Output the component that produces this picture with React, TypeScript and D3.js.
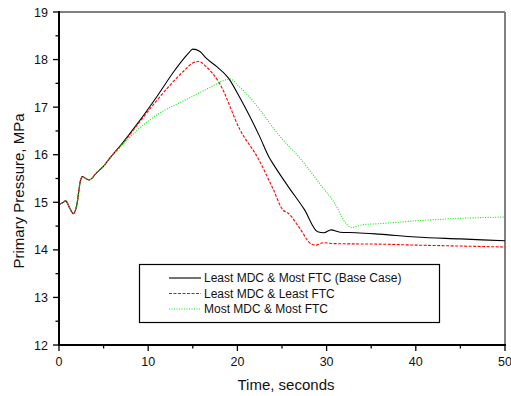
import React from 'react';
import * as d3 from 'd3';

// time (s) and primary pressure (MPa)
const baseT = [0, 0.4, 0.75, 1.2, 1.6, 2.0, 2.4, 2.6, 3.0, 3.4, 4.2, 5.0, 5.7, 7, 8.9, 11, 13, 14.5, 15.0, 15.8, 16.5, 17.7, 19.0, 20.3, 22.5, 23.6, 24.2, 25.7, 27.5, 29.0, 29.7, 30.5, 31.5, 33.3, 35.9, 40, 45, 50];
const baseP = [14.96, 14.99, 15.03, 14.88, 14.76, 14.95, 15.45, 15.54, 15.50, 15.47, 15.62, 15.76, 15.93, 16.22, 16.68, 17.23, 17.78, 18.13, 18.22, 18.17, 18.03, 17.85, 17.61, 17.19, 16.38, 15.93, 15.75, 15.33, 14.85, 14.38, 14.36, 14.42, 14.37, 14.36, 14.33, 14.27, 14.23, 14.19];

const leastT = [0, 0.4, 0.75, 1.2, 1.6, 2.0, 2.4, 2.6, 3.0, 3.4, 4.2, 5.0, 5.7, 7, 9, 11, 14.1, 15.0, 15.7, 16.5, 18.0, 20.3, 22.3, 24.0, 25.1, 25.7, 27.0, 28.3, 28.8, 29.6, 31, 36, 40, 45, 50];
const leastP = [14.96, 14.99, 15.03, 14.88, 14.76, 14.95, 15.45, 15.54, 15.50, 15.47, 15.62, 15.76, 15.93, 16.2, 16.68, 17.15, 17.78, 17.93, 17.96, 17.85, 17.5, 16.52, 15.93, 15.28, 14.84, 14.77, 14.45, 14.12, 14.10, 14.15, 14.13, 14.12, 14.10, 14.08, 14.06];

const mostT = [0, 0.4, 0.75, 1.2, 1.6, 2.0, 2.4, 2.6, 3.0, 3.4, 4.2, 5.0, 5.7, 6.5, 7.8, 9.6, 11.5, 13.5, 15.2, 17, 18.6, 19.2, 20, 21.4, 22.5, 24.6, 27, 29.2, 31, 32.2, 32.8, 33.5, 34.1, 35.9, 40, 46, 50];
const mostP = [14.96, 14.99, 15.03, 14.88, 14.76, 14.95, 15.45, 15.54, 15.50, 15.47, 15.62, 15.76, 15.93, 16.09, 16.34, 16.65, 16.9, 17.09, 17.25, 17.42, 17.57, 17.59, 17.47, 17.2, 16.95, 16.42, 15.93, 15.40, 14.95, 14.55, 14.47, 14.50, 14.53, 14.55, 14.61, 14.67, 14.69];

const seriesNames = ['Least MDC & Most FTC (Base Case)', 'Least MDC & Least FTC', 'Most MDC & Most FTC'];
const xTicks = [0, 10, 20, 30, 40, 50];
const yTicks = [12, 13, 14, 15, 16, 17, 18, 19];

const W = 511, H = 396;
const M = { left: 59, right: 505, top: 12, bottom: 345 };
const FONT = '"Liberation Sans", Arial, sans-serif';

const App = () => {
    const x = d3.scaleLinear().domain([0, 50]).range([M.left, M.right]);
    const y = d3.scaleLinear().domain([12, 19]).range([M.bottom, M.top]);
    const line = d3.line<[number, number]>().x(d => x(d[0])).y(d => y(d[1])).curve(d3.curveMonotoneX);

    const series = [
        { name: seriesNames[0], t: baseT, p: baseP, stroke: '#000000', dash: undefined as string | undefined },
        { name: seriesNames[1], t: leastT, p: leastP, stroke: '#ff0000', dash: '3,1.5' },
        { name: seriesNames[2], t: mostT, p: mostP, stroke: '#00ee00', dash: '1,1.5' },
    ];

    const xMinor = d3.range(5, 50, 10);
    const yMinor = d3.range(12.5, 19, 1);

    return (
        <svg width={W} height={H} style={{ position: 'absolute', left: 0, top: 0, background: '#fff' }} fontFamily={FONT}>
            <rect width={W} height={H} fill="#fff" />

            {/* frame: grey top / right */}
            <line x1={M.left} x2={M.right} y1={M.top} y2={M.top} stroke="#808080" strokeWidth={2} />
            <line x1={M.right} x2={M.right} y1={M.top} y2={M.bottom} stroke="#808080" strokeWidth={2} />

            {/* curves */}
            {series.map(s => (
                <path key={s.name} d={line(s.t.map((t, i) => [t, s.p[i]] as [number, number])) || ''}
                    fill="none" stroke={s.stroke} strokeWidth={1.1} strokeDasharray={s.dash} />
            ))}

            {/* left axis */}
            <line x1={M.left} x2={M.left} y1={M.top - 1} y2={M.bottom + 1} stroke="#000" strokeWidth={2} />
            {yTicks.map(v => (
                <g key={v}>
                    <line x1={M.left - 6} x2={M.left} y1={y(v)} y2={y(v)} stroke="#000" strokeWidth={1.3} />
                    <text x={M.left - 11} y={y(v)} dy="0.36em" textAnchor="end" fontSize={12.5} fill="#111">{v}</text>
                </g>
            ))}
            {yMinor.map(v => (
                <line key={v} x1={M.left - 3.5} x2={M.left} y1={y(v)} y2={y(v)} stroke="#000" strokeWidth={1.3} />
            ))}

            {/* bottom axis */}
            <line x1={M.left - 1} x2={M.right + 1} y1={M.bottom} y2={M.bottom} stroke="#000" strokeWidth={2} />
            {xTicks.map(v => (
                <g key={v}>
                    <line x1={x(v)} x2={x(v)} y1={M.bottom} y2={M.bottom + 6} stroke="#000" strokeWidth={1.3} />
                    <text x={x(v)} y={M.bottom + 21} textAnchor="middle" fontSize={12.5} fill="#111">{v}</text>
                </g>
            ))}
            {xMinor.map(v => (
                <line key={v} x1={x(v)} x2={x(v)} y1={M.bottom} y2={M.bottom + 3.5} stroke="#000" strokeWidth={1.3} />
            ))}

            {/* axis titles */}
            <text x={286} y={390} textAnchor="middle" fontSize={15} fill="#111">Time, seconds</text>
            <text transform="translate(24,191) rotate(-90)" textAnchor="middle" fontSize={15} fill="#111">Primary Pressure, MPa</text>

            {/* legend */}
            <rect x={139.5} y={264.5} width={300} height={58} fill="#fff" stroke="#000" strokeWidth={1.2} />
            {series.map((s, i) => (
                <g key={s.name} transform={`translate(0,${278 + i * 15.5})`}>
                    <line x1={169} x2={201} y1={0} y2={0} stroke={s.stroke} strokeWidth={1.1} strokeDasharray={s.dash} />
                    <text x={204} y={0} dy="0.36em" fontSize={12} fill="#111">{s.name}</text>
                </g>
            ))}
        </svg>
    );
};

export default App;
